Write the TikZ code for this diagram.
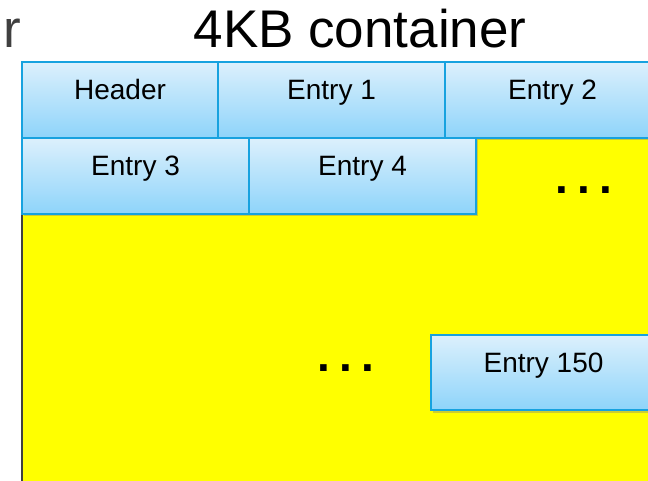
\documentclass[tikz,border=0pt]{standalone}
\usepackage{fontspec}
\setmainfont{Liberation Sans}
\usetikzlibrary{shadows, positioning}
\definecolor{boxtop}{HTML}{DCF0FC}
\definecolor{boxbot}{HTML}{8ED4FA}
\definecolor{boxline}{HTML}{17A2DF}
\definecolor{cutgray}{HTML}{404040}
\definecolor{contyellow}{RGB}{255,255,0}

\begin{document}
\begin{tikzpicture}[x=1pt, y=-1pt,
entry/.style={draw=boxline, line width=2.5pt, top color=boxtop, bottom color=boxbot, minimum height=76pt, inner sep=0pt, outer sep=0pt, text height=0pt, text depth=0pt, font=\fontsize{28}{30}\selectfont, drop shadow={shadow xshift=2pt, shadow yshift=-2.5pt, opacity=0.4}},
dots/.style={font=\fontsize{46}{46}\selectfont\bfseries, anchor=base, inner sep=0pt}]
\useasboundingbox (0,0) rectangle (648,481);
\clip (0,0) rectangle (648,481);
% container
\fill[contyellow] (22,138) rectangle (660,490);
\draw[cutgray, line width=2.5pt] (22,138) -- (22,490);
\node[anchor=base, inner sep=0pt, font=\fontsize{53}{55}\selectfont] (title) at (360,48) {4KB container};
\node[anchor=base east, inner sep=0pt, text=cutgray, font=\fontsize{53}{55}\selectfont] (cut) at (21,48) {r};
% entries
\node[entry, minimum width=196pt, anchor=north west] (hdr) at (22,62) {Header};
\node[entry, minimum width=227pt, right=0pt of hdr] (e1) {Entry 1};
\node[entry, minimum width=215pt, right=0pt of e1] (e2) {Entry 2};
\node[entry, minimum width=227pt, anchor=north west] (e3) at (hdr.south west) {Entry 3};
\node[entry, minimum width=227pt, right=0pt of e3] (e4) {Entry 4};
\node[entry, minimum width=225pt, minimum height=75pt, anchor=north west] (e150) at (431,335) {Entry 150};
\node[dots] (more1) at (584,194) {.\hspace{9pt}.\hspace{9pt}.};
\node[dots] (more2) at (346,371) {.\hspace{9pt}.\hspace{9pt}.};
\end{tikzpicture}
\end{document}
